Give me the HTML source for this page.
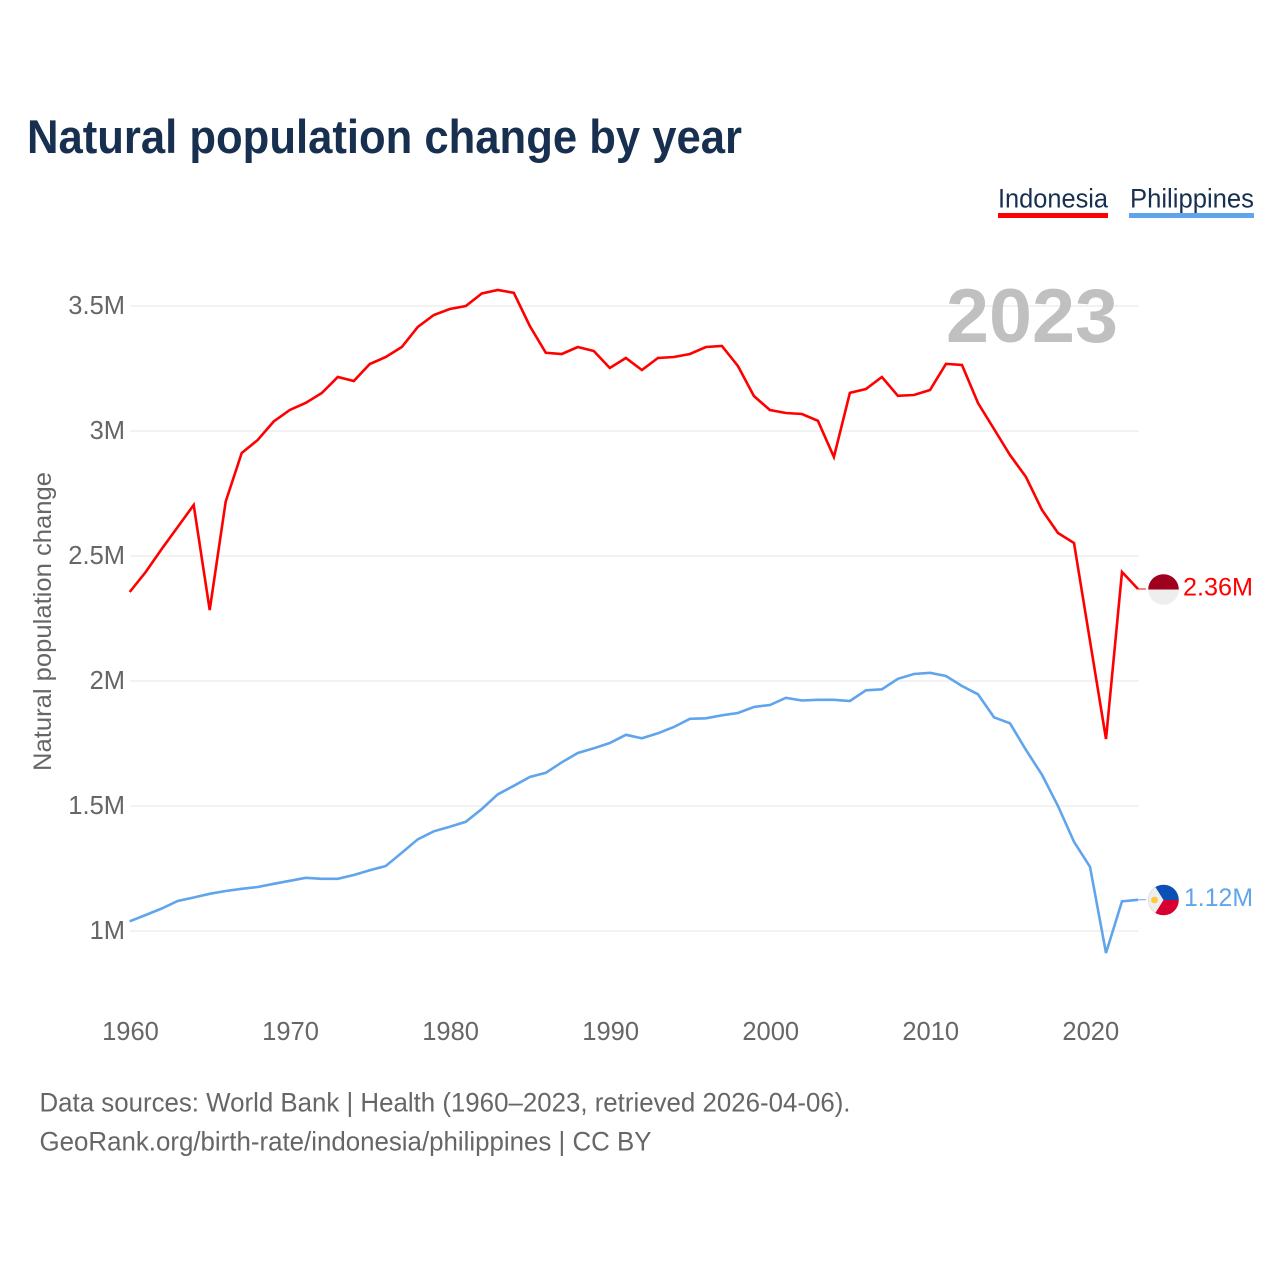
<!DOCTYPE html>
<html lang="en">
<head>
<meta charset="utf-8">
<title>Natural population change by year</title>
<style>
html,body{margin:0;padding:0;background:#fff;width:1280px;height:1280px;overflow:hidden}
svg{display:block;font-family:"Liberation Sans",sans-serif}
</style>
</head>
<body>
<svg id="chart" xmlns="http://www.w3.org/2000/svg" width="1280" height="1280" viewBox="0 0 1280 1280">
  <defs>
    <clipPath id="flag-clip"><circle cx="0" cy="0" r="15.3"></circle></clipPath>
  </defs>
  <rect x="0" y="0" width="1280" height="1280" fill="#ffffff"></rect>
  <text x="27" y="153" font-size="47" font-weight="700" fill="#18304f" textLength="715" lengthAdjust="spacingAndGlyphs">Natural population change by year</text>

  <g>
    <text x="998" y="207.5" font-size="27" fill="#18304f" textLength="110" lengthAdjust="spacingAndGlyphs">Indonesia</text>
    <rect x="998" y="213" width="110" height="5" fill="#ff0000"></rect>
  </g>
  <g>
    <text x="1130" y="207.5" font-size="27" fill="#18304f" textLength="124" lengthAdjust="spacingAndGlyphs">Philippines</text>
    <rect x="1129" y="213" width="125" height="5" fill="#60a5ec"></rect>
  </g>

  <g id="grid"></g>
  <g id="y-ticks"></g>
  <g id="x-ticks"></g>

  <text transform="translate(51,771) rotate(-90)" x="0" y="0" font-size="25" fill="#666666" textLength="299" lengthAdjust="spacingAndGlyphs">Natural population change</text>

  <text x="946" y="342" font-size="76" font-weight="700" fill="#c0c0c0" textLength="172" lengthAdjust="spacingAndGlyphs">2023</text>

  <polyline id="line-indonesia" fill="none" stroke="#ff0000" stroke-width="2.6" stroke-linejoin="miter"></polyline>
  <polyline id="line-philippines" fill="none" stroke="#60a5ec" stroke-width="2.6" stroke-linejoin="miter"></polyline>
  <line id="connector-indonesia" stroke="#ff0000" stroke-width="1"></line>
  <line id="connector-philippines" stroke="#60a5ec" stroke-width="1"></line>

  <g id="flag-indonesia">
    <g clip-path="url(#flag-clip)">
      <rect x="-16" y="-16" width="32" height="16" fill="#9e001e"></rect>
      <rect x="-16" y="0" width="32" height="16" fill="#eeeeee"></rect>
    </g>
  </g>
  <g id="flag-philippines">
    <g clip-path="url(#flag-clip)">
      <rect x="-16" y="-16" width="32" height="16" fill="#0a50b5"></rect>
      <rect x="-16" y="0" width="32" height="16" fill="#d80030"></rect>
      <polygon points="-16,-16 -10,-16 0,0 -10,16 -16,16" fill="#eeeeee"></polygon>
      <circle cx="-9" cy="0" r="3.4" fill="#fcc93c"></circle>
    </g>
  </g>

  <text id="value-indonesia" x="1183" font-size="25" fill="#ff0000" textLength="70" lengthAdjust="spacingAndGlyphs"></text>
  <text id="value-philippines" x="1184" font-size="25" fill="#60a5ec" textLength="69" lengthAdjust="spacingAndGlyphs"></text>

  <text x="39.5" y="1111.5" font-size="27" fill="#666666" textLength="811" lengthAdjust="spacingAndGlyphs">Data sources: World Bank | Health (1960–2023, retrieved 2026-04-06).</text>
  <text x="39.5" y="1150.5" font-size="27" fill="#666666" textLength="612" lengthAdjust="spacingAndGlyphs">GeoRank.org/birth-rate/indonesia/philippines | CC BY</text>
</svg>

<script>
const firstYear = 1960;
const indonesia = [
  2.356,2.436,2.528,2.616,2.704,2.284,2.718,2.912,2.964,3.038,
  3.084,3.113,3.152,3.216,3.200,3.268,3.296,3.336,3.416,3.464,
  3.488,3.500,3.550,3.564,3.553,3.420,3.313,3.308,3.336,3.320,
  3.252,3.292,3.244,3.292,3.296,3.308,3.336,3.340,3.260,3.140,
  3.084,3.072,3.068,3.041,2.896,3.153,3.168,3.216,3.141,3.144,
  3.164,3.269,3.264,3.112,3.008,2.904,2.816,2.684,2.592,2.552,
  2.160,1.768,2.436,2.368
];
const philippines = [
  1.039,1.064,1.090,1.120,1.134,1.149,1.160,1.169,1.176,1.189,
  1.201,1.213,1.209,1.209,1.224,1.243,1.260,1.313,1.367,1.399,
  1.417,1.437,1.488,1.547,1.581,1.616,1.633,1.675,1.712,1.731,
  1.752,1.785,1.771,1.791,1.816,1.849,1.851,1.863,1.872,1.896,
  1.904,1.933,1.922,1.925,1.925,1.920,1.963,1.967,2.009,2.028,
  2.033,2.020,1.980,1.947,1.855,1.831,1.724,1.625,1.500,1.357,
  1.257,0.912,1.119,1.125
];
const yTickValues = [1, 1.5, 2, 2.5, 3, 3.5];
const yTickLabels = ["1M", "1.5M", "2M", "2.5M", "3M", "3.5M"];
const xTickYears = [1960, 1970, 1980, 1990, 2000, 2010, 2020];
const endLabels = ["2.36M", "1.12M"];

const SVG_NS = "http://www.w3.org/2000/svg";
const xScale = function (year) { return 129.7 + (year - 1960) * 16.005; };
const yScale = function (value) { return 931 - (value - 1) * 250; };
const plotRight = xScale(2023) + 0.5;

function pointsFor(series) {
  return series.map(function (v, i) {
    return xScale(firstYear + i).toFixed(1) + "," + yScale(v).toFixed(1);
  }).join(" ");
}

const gridGroup = document.getElementById("grid");
const yTickGroup = document.getElementById("y-ticks");
const xTickGroup = document.getElementById("x-ticks");

yTickValues.forEach(function (value, i) {
  const line = document.createElementNS(SVG_NS, "line");
  
  
  line.setAttribute("x1", 130);
  line.setAttribute("x2", plotRight);
  line.setAttribute("y1", yScale(value));
  line.setAttribute("y2", yScale(value));
  line.setAttribute("stroke", "#e4e4e4");
  line.setAttribute("stroke-width", 1);
  gridGroup.appendChild(line);

  const label = document.createElementNS(SVG_NS, "text");
  
  
  label.setAttribute("x", 125);
  label.setAttribute("y", yScale(value) + 8);
  label.setAttribute("text-anchor", "end");
  label.setAttribute("font-size", 25.5);
  label.setAttribute("fill", "#666666");
  label.textContent = yTickLabels[i];
  yTickGroup.appendChild(label);
});

xTickYears.forEach(function (year) {
  const label = document.createElementNS(SVG_NS, "text");
  
  
  label.setAttribute("x", xScale(year) + 0.8);
  label.setAttribute("y", 1040);
  label.setAttribute("text-anchor", "middle");
  label.setAttribute("font-size", 25.5);
  label.setAttribute("fill", "#666666");
  label.textContent = String(year);
  xTickGroup.appendChild(label);
});

document.getElementById("line-indonesia").setAttribute("points", pointsFor(indonesia));
document.getElementById("line-philippines").setAttribute("points", pointsFor(philippines));

const endY1 = yScale(indonesia[indonesia.length - 1]);
const endY2 = yScale(philippines[philippines.length - 1]);
const endX = xScale(firstYear + indonesia.length - 1);

const conn1 = document.getElementById("connector-indonesia");
conn1.setAttribute("x1", endX);
conn1.setAttribute("x2", 1146);
conn1.setAttribute("y1", endY1);
conn1.setAttribute("y2", endY1);

const conn2 = document.getElementById("connector-philippines");
conn2.setAttribute("x1", endX);
conn2.setAttribute("x2", 1146);
conn2.setAttribute("y1", endY2);
conn2.setAttribute("y2", endY2);

document.getElementById("flag-indonesia").setAttribute("transform", "translate(1163.5," + (endY1 + 0.5).toFixed(1) + ")");
document.getElementById("flag-philippines").setAttribute("transform", "translate(1163.5," + (endY2 + 0.3).toFixed(1) + ")");

const val1 = document.getElementById("value-indonesia");
val1.setAttribute("y", endY1 + 6.5);
val1.textContent = endLabels[0];

const val2 = document.getElementById("value-philippines");
val2.setAttribute("y", endY2 + 6);
val2.textContent = endLabels[1];
</script>
</body>
</html>
